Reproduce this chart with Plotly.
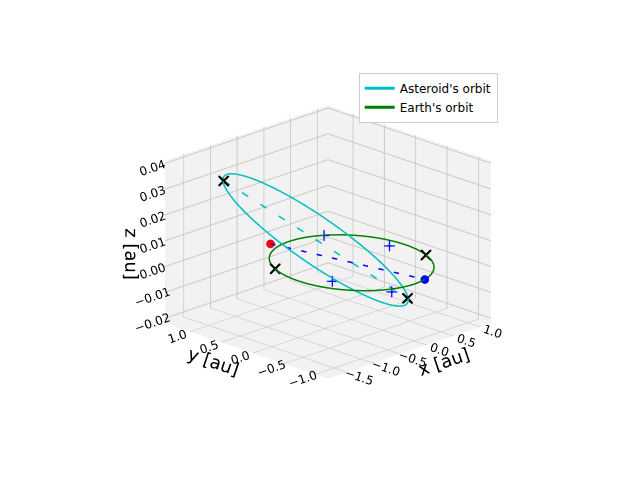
import numpy as np
import plotly.graph_objects as go

# asteroid orbital geometry
ast_a = 1.125
ast_e = 0.39
peri_dir = [0.69, -0.72, -0.019]
perp_dir = [0.75, 0.66, 0.0]
earth_r = 1.0

aphelion = [-1.075, 1.125, 0.03]
perihelion = [0.47, -0.49, -0.013]
ast_pos = [-0.84, 0.58, 0.0085]
earth_pos = [0.225, -0.974, 0.0]
red_cross = [[-1.075, 0.91], [1.125, -0.41], [0.03, 0.0]]
black_cross = [[-1.075, 0.91, -0.88, 0.47], [1.125, -0.41, 0.47, -0.49], [0.03, 0.0, 0.0, -0.013]]
plus_pts = [[0.5, 0.54, -0.4, 0.29], [0.87, -0.14, -0.03, -0.39], [0.0, 0.004, -0.004, -0.01]]

t = np.linspace(0, 2*np.pi, 300)
P = np.array(peri_dir); P = P/np.linalg.norm(P)
Q = np.array(perp_dir); Q = Q - P*np.dot(P, Q); Q = Q/np.linalg.norm(Q)
b = ast_a*np.sqrt(1-ast_e**2)
orb = np.outer(ast_a*(np.cos(t)-ast_e), P) + np.outer(b*np.sin(t), Q)

fig = go.Figure()
fig.add_trace(go.Scatter3d(x=orb[:,0], y=orb[:,1], z=orb[:,2], mode='lines',
    line=dict(color='#00bfbf', width=3), name="Asteroid's orbit"))
fig.add_trace(go.Scatter3d(x=earth_r*np.cos(t), y=earth_r*np.sin(t), z=0*t, mode='lines',
    line=dict(color='green', width=3), name="Earth's orbit"))
fig.add_trace(go.Scatter3d(x=[aphelion[0], perihelion[0]], y=[aphelion[1], perihelion[1]],
    z=[aphelion[2], perihelion[2]], mode='lines', line=dict(color='#00bfbf', width=3, dash='longdash'), showlegend=False))
fig.add_trace(go.Scatter3d(x=[ast_pos[0], earth_pos[0]], y=[ast_pos[1], earth_pos[1]],
    z=[ast_pos[2], earth_pos[2]], mode='lines', line=dict(color='blue', width=3, dash='longdash'), showlegend=False))
fig.add_trace(go.Scatter3d(x=[ast_pos[0]], y=[ast_pos[1]], z=[ast_pos[2]], mode='markers',
    marker=dict(color='red', size=5), showlegend=False))
fig.add_trace(go.Scatter3d(x=[earth_pos[0]], y=[earth_pos[1]], z=[earth_pos[2]], mode='markers',
    marker=dict(color='blue', size=5), showlegend=False))
fig.add_trace(go.Scatter3d(x=red_cross[0], y=red_cross[1], z=red_cross[2], mode='markers',
    marker=dict(color='red', size=2.5, symbol='x'), showlegend=False))
fig.add_trace(go.Scatter3d(x=black_cross[0], y=black_cross[1], z=black_cross[2], mode='markers',
    marker=dict(color='black', size=2.5, symbol='x'), showlegend=False))
fig.add_trace(go.Scatter3d(x=plus_pts[0], y=plus_pts[1], z=plus_pts[2], mode='markers',
    marker=dict(color='blue', size=6, symbol='cross'), showlegend=False))

ax = dict(backgroundcolor='rgb(242,242,242)', showbackground=True, gridcolor='rgb(200,200,200)',
          zeroline=False, showspikes=False, tickfont=dict(size=12, color='black'))
fig.update_layout(
    width=640, height=480, paper_bgcolor='white', margin=dict(l=0, r=0, t=0, b=0),
    font=dict(family='DejaVu Sans', color='black'),
    legend=dict(x=0.548, y=0.865, bgcolor='white', bordercolor='#ccc', borderwidth=1, font=dict(size=12)),
    scene=dict(
        xaxis=dict(ax, range=[-1.85, 1.2], tickvals=[-1.5, -1.0, -0.5, 0.0, 0.5, 1.0],
                   ticktext=['−1.5', '−1.0', '−0.5', '0.0', '0.5', '1.0'], title=dict(text='x [au]', font=dict(size=18))),
        yaxis=dict(ax, range=[-1.2, 1.4], tickvals=[-1.0, -0.5, 0.0, 0.5, 1.0],
                   ticktext=['−1.0', '−0.5', '0.0', '0.5', '1.0'], title=dict(text='y [au]', font=dict(size=18))),
        zaxis=dict(ax, range=[-0.022, 0.041], tickvals=[-0.02, -0.01, 0.0, 0.01, 0.02, 0.03, 0.04],
                   ticktext=['−0.02', '−0.01', '0.00', '0.01', '0.02', '0.03', '0.04'], title=dict(text='z [au]', font=dict(size=18))),
        aspectmode='manual', aspectratio=dict(x=1, y=1, z=0.75),
        camera=dict(eye=dict(x=-0.98, y=-0.98, z=0.47), center=dict(x=0, y=0, z=-0.03),
                    projection=dict(type='orthographic')),
        domain=dict(x=[0.0, 1.0], y=[0.02, 0.98]),
    ),
)
fig.write_html('out.html')
